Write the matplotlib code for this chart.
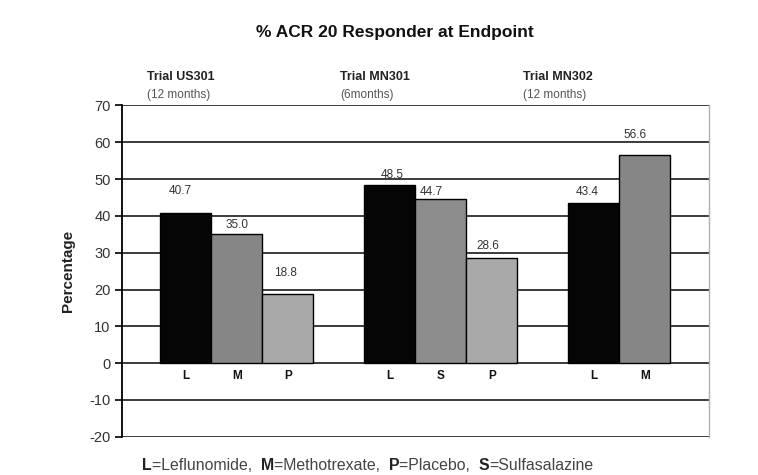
import matplotlib
matplotlib.use("Agg")
import matplotlib.pyplot as plt

plt.rcParams['font.family'] = ['Liberation Sans', 'DejaVu Sans']
plt.rcParams['axes.unicode_minus'] = False

# 資料
trials = ['Trial US301', 'Trial MN301', 'Trial MN302']
durations = ['(12 months)', '(6months)', '(12 months)']
drugs = ['L', 'M', 'P', 'L', 'S', 'P', 'L', 'M']
values = [40.7, 35.0, 18.8, 48.5, 44.7, 28.6, 43.4, 56.6]
footnote = [('L', True), ('=Leflunomide,  ', False), ('M', True), ('=Methotrexate,  ', False),
            ('P', True), ('=Placebo,  ', False), ('S', True), ('=Sulfasalazine', False)]

# 版面設定
pos = [0, 1, 2, 4, 5, 6, 8, 9]
colors = {'L': '#050505', 'M': '#868686', 'S': '#8c8c8c', 'P': '#a9a9a9'}
label_dx = [-0.12, 0, -0.05, 0.05, -0.18, -0.08, -0.13, -0.2]
label_dy = [6.0, 2.5, 5.7, 2.6, 1.9, 3.2, 3.0, 5.4]

fig = plt.figure(figsize=(7.58, 4.75), dpi=100)
ax = fig.add_axes([0.1606, 0.0806, 0.7748, 0.6973])

ax.bar(pos, values, width=1.0, color=[colors[d] for d in drugs],
       edgecolor='black', linewidth=1.0, zorder=3)

for x, v, dx, dy in zip(pos, values, label_dx, label_dy):
    ax.text(x + dx, v + dy, f'{v:.1f}', ha='center', va='center', fontsize=8.5, color='#333333')

for x, d in zip(pos, drugs):
    ax.text(x, -3.6, d, ha='center', va='center', fontsize=8.5, fontweight='bold', color='#111111')

ax.set_xlim(-1.26, 10.26)
ax.set_ylim(-20, 70)
ax.set_yticks(range(-20, 71, 10))
ax.set_xticks([])
ax.tick_params(axis='y', direction='out', length=5, width=1.2, labelsize=10.5,
               labelcolor='#333333', pad=3)
ax.yaxis.grid(True, color='#1a1a1a', linewidth=1.2, zorder=0)
ax.set_axisbelow(True)

for s in ['top', 'bottom']:
    ax.spines[s].set_visible(False)
ax.spines['left'].set_linewidth(1.3)
ax.spines['right'].set_color('#b0b0b0')
ax.spines['right'].set_linewidth(1.0)

ax.set_ylabel('Percentage', fontsize=11, fontweight='bold', color='#222222', labelpad=10)

# 試驗標題
trial_x = [147, 340, 523]
for t, d, x in zip(trials, durations, trial_x):
    fig.text(x / 758, 1 - 77 / 475, t, ha='left', va='center', fontsize=9,
             fontweight='bold', color='#222222')
    fig.text(x / 758, 1 - 95 / 475, d, ha='left', va='center', fontsize=8.5, color='#555555')

fig.text(395 / 758, 1 - 33 / 475, '% ACR 20 Responder at Endpoint', ha='center', va='center',
         fontsize=12.5, fontweight='bold', color='#111111')

# 註腳
renderer = fig.canvas.get_renderer()
x0 = 142 / 758
for txt, bold in footnote:
    t = fig.text(x0, 1 - 465 / 475, txt, ha='left', va='center', fontsize=11.4,
                 fontweight='bold' if bold else 'normal', color='#222222' if bold else '#444444')
    bb = t.get_window_extent(renderer=renderer)
    x0 += bb.width / fig.bbox.width

fig.savefig('out.png', dpi=100)
